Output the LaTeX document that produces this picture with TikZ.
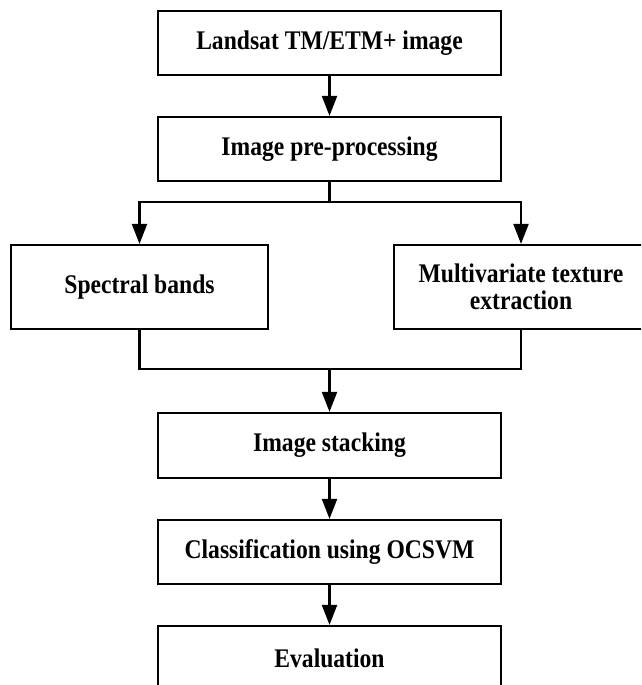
\documentclass[tikz,border=0pt]{standalone}
\usepackage{fontspec}
\usepackage{graphicx}
\setmainfont{Liberation Serif}
\usetikzlibrary{arrows.meta}
% labels are set slightly taller than the plain face
\newcommand\tallt[1]{\scalebox{1}[1.14]{#1}}
\begin{document}
\begin{tikzpicture}[x=1pt,y=-1pt,
  stepbox/.style={draw=black, line width=2.2pt, fill=white, inner sep=0pt,
    minimum height=64pt, align=center,
    font=\fontsize{23.6}{27}\selectfont\bfseries},
  widebox/.style={stepbox, minimum width=343pt},
  sidebox/.style={stepbox, minimum width=257pt, minimum height=84pt},
  link/.style={line width=2.2pt, draw=black},
  flow/.style={link, -{Triangle[width=15pt,length=20pt]}}]
\useasboundingbox (0,0) rectangle (641,685);
\clip (0,0) rectangle (641,685);

% main column of processing steps
\node[widebox] (landsat) at (329.5,43) {\tallt{Landsat TM/ETM+ image}};
\node[widebox] (prep)    at (329.5,149) {\tallt{Image pre-processing}};
\node[sidebox] (spectral) at (139.5,287) {\tallt{Spectral bands}};
\node[sidebox, minimum width=254pt] (texture) at (521,287)
  {\tallt{Multivariate texture}\\\tallt{extraction}};
\node[widebox, minimum height=65pt] (stack) at (329.5,445.5) {\tallt{Image stacking}};
\node[widebox] (classify) at (329.5,552) {\tallt{Classification using OCSVM}};
\node[widebox] (eval)     at (329.5,658) {\tallt{Evaluation}};

% split and merge points
\coordinate (split) at (329.5,202);
\coordinate (merge) at (329.5,369);

\draw[flow] (landsat) -- (prep);
\draw[link] (prep.south) -- (split);
\draw[flow] (split) -| (spectral.north);
\draw[flow] (split) -| (texture.north);
\draw[link] (spectral.south) |- (merge);
\draw[link] (texture.south) |- (merge);
\draw[flow] (merge) -- (stack.north);
\draw[flow] (stack) -- (classify);
\draw[flow] (classify) -- (eval);
\end{tikzpicture}
\end{document}
